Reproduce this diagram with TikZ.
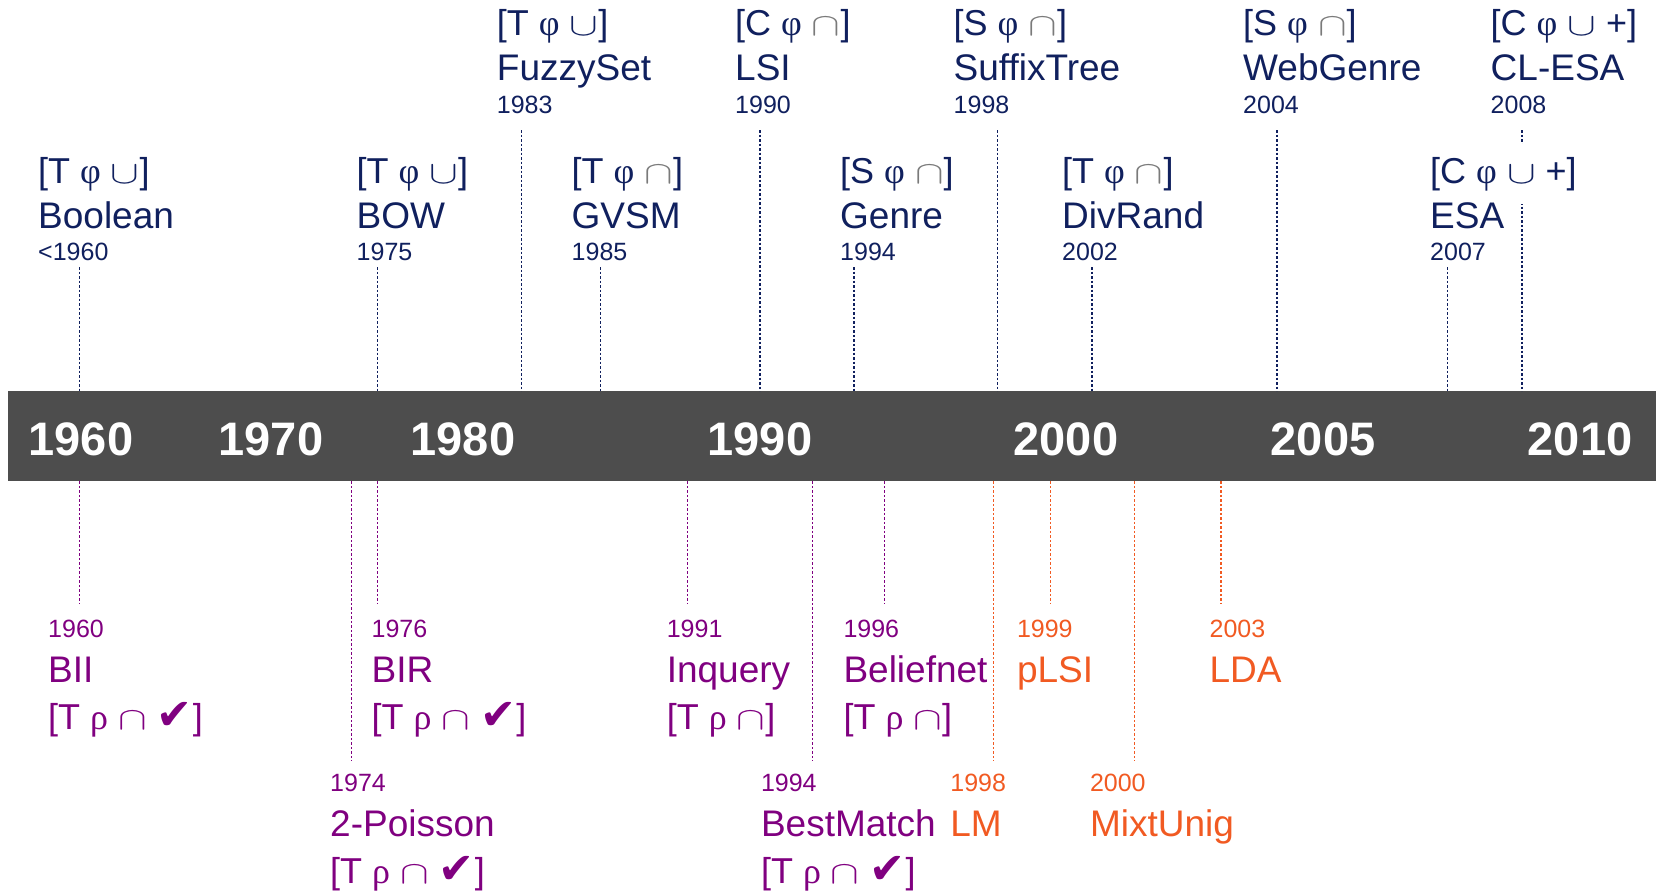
\documentclass[tikz,border=0pt]{standalone}
\usepackage{fontspec}
\setmainfont{Liberation Sans}
\newfontfamily\grkf{Liberation Serif}
\newfontfamily\symf{DejaVu Sans}
\definecolor{navy}{HTML}{10205E}
\definecolor{capgray}{HTML}{7A7A7A}
\definecolor{purp}{HTML}{800080}
\definecolor{orng}{HTML}{F15A22}
\definecolor{barc}{HTML}{4D4D4D}
\newcommand\phis{{\grkf φ}}
\newcommand\rhos{{\grkf ρ}}
\newcommand\cupS{\scalebox{4.3}[3.2]{\fontsize{10}{12}\selectfont$\cup$}}
\newcommand\capS{\scalebox{4.3}[3.2]{\fontsize{10}{12}\selectfont$\cap$}}
\newcommand\capG{{\color{capgray}\capS}}
\newcommand\chk{{\symf\fontsize{43}{46}\selectfont ✔}}
\newcommand\topg[7][]{%
  \node[lab,brk,#1] (#2b) at (#3,#4) {#5};
  \node[lab,big] (#2n) at (#3,#4+45) {#6};
  \node[lab,sml] (#2y) at (#3,#4+77) {#7};}
\newcommand\botg[7][]{%
  \node[lab,sml,#1] (#2y) at (#3,#4) {#7};
  \node[lab,big,#1] (#2n) at (#3,#4+45) {#5};
  \node[lab,brk,#1] (#2b) at (#3,#4+92) {#6};}
\begin{document}
\begin{tikzpicture}[x=1pt,y=-1pt,
  lab/.style={inner sep=0pt, anchor=base west, text=navy},
  brk/.style={font=\fontsize{36}{42}\selectfont},
  big/.style={font=\fontsize{37}{44}\selectfont},
  sml/.style={font=\fontsize{25}{30}\selectfont},
  yearlab/.style={inner sep=0pt, anchor=base, text=white, font=\fontsize{47}{54}\selectfont\bfseries},
  dl/.style={line width=1.3pt, dash pattern=on 2.5pt off 2pt},
  nl/.style={dl, draw=navy},
  pl/.style={dl, draw=purp},
  ol/.style={dl, draw=orng}]
\useasboundingbox (0,0) rectangle (1659,891);
\node[fill=barc, inner sep=0pt, minimum width=1648pt, minimum height=90pt, anchor=north west] (bar) at (8,391) {};
\node[yearlab] (y1960) at (81,455) {1960};
\node[yearlab] (y1970) at (271,455) {1970};
\node[yearlab] (y1980) at (463,455) {1980};
\node[yearlab] (y1990) at (760,455) {1990};
\node[yearlab] (y2000) at (1066,455) {2000};
\node[yearlab] (y2005) at (1323,455) {2005};
\node[yearlab] (y2010) at (1580,455) {2010};
% connectors above the bar
\foreach \n/\x/\y in {sBool/79.4/267, sBOW/377.7/267, sGVSM/600.7/267, sGenre/854/267, sDiv/1092/267, sESA/1447.7/267,
  sFuzzy/521.7/130, sLSI/760/130, sSuffix/997.8/130, sWeb/1277/130, sCL/1522/130}{
  \coordinate (\n) at (\x,\y);
  \draw[nl] (\n) -- (\n |- bar.north);
}
% connectors below the bar
\foreach \n/\x/\y/\s in {eBII/79.4/603/pl, eBIR/377.7/603/pl, eInq/687.8/603/pl, eBel/884.6/603/pl, ePLSI/1050.7/603/ol, eLDA/1221/603/ol,
  ePois/351.3/761/pl, eBest/812.6/761/pl, eLM/993.5/761/ol, eMix/1134.3/761/ol}{
  \coordinate (\n) at (\x,\y);
  \draw[\s] (\n |- bar.south) -- (\n);
}
% upper labels
\topg{bool}{38}{183}{[T \phis{} \cupS]}{Boolean}{<1960}
\topg{bow}{356.5}{183}{[T \phis{} \cupS]}{BOW}{1975}
\topg{gvsm}{571.5}{183}{[T \phis{} \capG]}{GVSM}{1985}
\topg{genre}{840}{183}{[S \phis{} \capG]}{Genre}{1994}
\topg{div}{1062}{183}{[T \phis{} \capG]}{DivRand}{2002}
\topg[fill=white, inner ysep=13pt]{esa}{1430}{183}{[C \phis{} \cupS{} +]}{ESA}{2007}
\topg{fuzzy}{496.7}{36}{[T \phis{} \cupS]}{FuzzySet}{1983}
\topg{lsi}{735}{36}{[C \phis{} \capG]}{LSI}{1990}
\topg{suffix}{953.5}{36}{[S \phis{} \capG]}{SuffixTree}{1998}
\topg{web}{1243}{36}{[S \phis{} \capG]}{WebGenre}{2004}
\topg{clesa}{1490.5}{36}{[C \phis{} \cupS{} +]}{CL-ESA}{2008}
% lower labels
\botg[text=purp]{bii}{48}{637}{BII}{[T \rhos{} \capS{} \chk]}{1960}
\botg[text=purp]{bir}{371.4}{637}{BIR}{[T \rhos{} \capS{} \chk]}{1976}
\botg[text=purp]{inq}{666.6}{637}{Inquery}{[T \rhos{} \capS]}{1991}
\botg[text=purp]{bel}{843.3}{637}{Beliefnet}{[T \rhos{} \capS]}{1996}
\node[lab,sml,text=orng] (plsiy) at (1016.8,637) {1999};
\node[lab,big,text=orng] (plsin) at (1016.8,682) {pLSI};
\node[lab,sml,text=orng] (lday) at (1209.4,637) {2003};
\node[lab,big,text=orng] (ldan) at (1209.4,682) {LDA};
\botg[text=purp]{pois}{330}{791}{2-Poisson}{[T \rhos{} \capS{} \chk]}{1974}
\botg[text=purp]{best}{760.8}{791}{BestMatch}{[T \rhos{} \capS{} \chk]}{1994}
\node[lab,sml,text=orng] (lmy) at (950.2,791) {1998};
\node[lab,big,text=orng] (lmn) at (950.2,836) {LM};
\node[lab,sml,text=orng] (mixy) at (1089.8,791) {2000};
\node[lab,big,text=orng] (mixn) at (1089.8,836) {MixtUnig};
\end{tikzpicture}
\end{document}
